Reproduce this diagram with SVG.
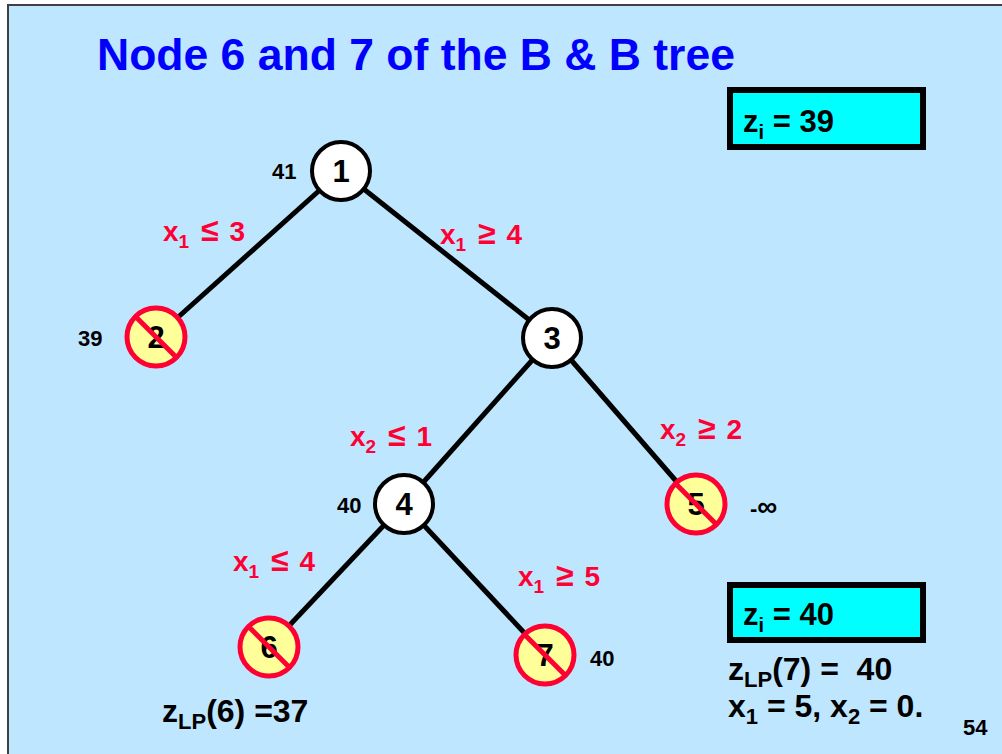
<svg xmlns="http://www.w3.org/2000/svg" width="1002" height="754" viewBox="0 0 1002 754">
<style>
text{font-family:"Liberation Sans",Arial,sans-serif;font-weight:bold;white-space:pre}
.title{font-size:44.5px;fill:#0000FF}
.num{font-size:31px;fill:#000;text-anchor:middle}
.val{font-size:22px;fill:#000}
.lbl{font-size:28px;fill:#FF0033}
.rel{font-size:32px}
.big{font-size:32px;fill:#000}
.box-t{font-size:31px;fill:#000}
.node{fill:#FFFFFF;stroke:#000;stroke-width:4}
.pruned{fill:#FFFF99;stroke:#FF0033;stroke-width:5}
.slash{stroke:#FF0033;stroke-width:5}
.edge{stroke:#000;stroke-width:5}
.box{fill:#00FFFF;stroke:#000;stroke-width:6}
</style>
<rect x="0" y="0" width="1002" height="754" fill="#FFFFFF"/>
<rect x="8" y="5" width="1000" height="755" fill="#BFE6FF" stroke="#404040" stroke-width="2"/>
<text class="title" x="97" y="70">Node 6 and 7 of the B &amp; B tree</text>
<g id="connectors">
<line class="edge" x1="341" y1="171" x2="156" y2="337"/>
<line class="edge" x1="341" y1="171" x2="552" y2="338"/>
<line class="edge" x1="552" y1="338" x2="404" y2="504"/>
<line class="edge" x1="552" y1="338" x2="696" y2="504"/>
<line class="edge" x1="404" y1="504" x2="269" y2="647"/>
<line class="edge" x1="404" y1="504" x2="545" y2="655"/>
</g>
<g id="edge-labels">
<text class="lbl" x="163" y="241">x<tspan font-size="19" dy="7">1</tspan><tspan dy="-7" dx="3" class="rel"> ≤</tspan><tspan dx="3"> 3</tspan></text>
<text class="lbl" x="440" y="244">x<tspan font-size="19" dy="7">1</tspan><tspan dy="-7" dx="3" class="rel"> ≥</tspan><tspan dx="3"> 4</tspan></text>
<text class="lbl" x="350" y="446">x<tspan font-size="19" dy="7">2</tspan><tspan dy="-7" dx="3" class="rel"> ≤</tspan><tspan dx="3"> 1</tspan></text>
<text class="lbl" x="660" y="439">x<tspan font-size="19" dy="7">2</tspan><tspan dy="-7" dx="3" class="rel"> ≥</tspan><tspan dx="3"> 2</tspan></text>
<text class="lbl" x="233" y="571">x<tspan font-size="19" dy="7">1</tspan><tspan dy="-7" dx="3" class="rel"> ≤</tspan><tspan dx="3"> 4</tspan></text>
<text class="lbl" x="518" y="586">x<tspan font-size="19" dy="7">1</tspan><tspan dy="-7" dx="3" class="rel"> ≥</tspan><tspan dx="3"> 5</tspan></text>
</g>
<g id="node1">
<circle class="node" cx="341" cy="171" r="29"/>
<text class="num" x="341" y="182">1</text>
<text class="val" x="272" y="179">41</text>
</g>
<g id="node2">
<circle class="pruned" cx="156" cy="337" r="29"/>
<text class="num" x="156" y="348">2</text>
<line class="slash" x1="136" y1="317" x2="176" y2="357"/>
<text class="val" x="78" y="346">39</text>
</g>
<g id="node3">
<circle class="node" cx="552" cy="338" r="29"/>
<text class="num" x="552" y="349">3</text>
</g>
<g id="node4">
<circle class="node" cx="404" cy="504" r="29"/>
<text class="num" x="404" y="515">4</text>
<text class="val" x="337" y="513">40</text>
</g>
<g id="node5">
<circle class="pruned" cx="696" cy="504" r="29"/>
<text class="num" x="696" y="515">5</text>
<line class="slash" x1="676" y1="484" x2="716" y2="524"/>
<text class="val" x="750" y="516">-<tspan font-size="28">∞</tspan></text>
</g>
<g id="node6">
<circle class="pruned" cx="269" cy="647" r="29"/>
<text class="num" x="269" y="658">6</text>
<line class="slash" x1="249" y1="627" x2="289" y2="667"/>
<text class="big" x="162" y="722">z<tspan font-size="22" dy="7">LP</tspan><tspan dy="-7">(6) =37</tspan></text>
</g>
<g id="node7">
<circle class="pruned" cx="545" cy="655" r="29"/>
<text class="num" x="545" y="666">7</text>
<line class="slash" x1="525" y1="635" x2="565" y2="675"/>
<text class="val" x="590" y="666">40</text>
</g>
<g id="zi-box-1">
<rect class="box" x="730" y="90" width="193" height="57"/>
<text class="box-t" x="743" y="132">z<tspan font-size="20" dy="7">i</tspan><tspan dy="-7"> = 39</tspan></text>
</g>
<g id="zi-box-2">
<rect class="box" x="730" y="585" width="193" height="55"/>
<text class="box-t" x="743" y="625">z<tspan font-size="20" dy="7">i</tspan><tspan dy="-7"> = 40</tspan></text>
</g>
<g id="summary">
<text class="big" x="728" y="680">z<tspan font-size="22" dy="7">LP</tspan><tspan dy="-7">(7) =  40</tspan></text>
<text class="big" x="728" y="717">x<tspan font-size="22" dy="7">1</tspan><tspan dy="-7"> = 5, x</tspan><tspan font-size="22" dy="7">2</tspan><tspan dy="-7"> = 0.</tspan></text>
<text class="val" x="963" y="735">54</text>
</g>
</svg>
